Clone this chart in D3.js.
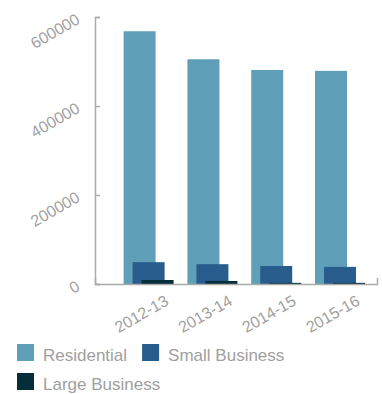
<!DOCTYPE html>
<meta charset="utf-8">
<script src="https://d3js.org/d3.v7.min.js"></script>
<style>
  body { margin: 0; background: #fff; }
  text { font-family: "Liberation Sans", Arial, sans-serif; }
</style>
<div id="chart"></div>
<script>

var years = ["2012-13", "2013-14", "2014-15", "2015-16"]
var series = ["Residential", "Small Business", "Large Business"]
var residential = [568000, 505000, 481000, 479000]
var smallBusiness = [49000, 44500, 40500, 38500]
var largeBusiness = [9000, 6800, 2600, 2600]
var yTicks = [0, 200000, 400000, 600000]

var values = [residential, smallBusiness, largeBusiness]

var width = 382
    height = 394

var svg = d3.select("#chart")
  .append("svg")
    .attr("width", width)
    .attr("height", height)

var color = d3.scaleOrdinal()
  .domain(series)
  .range(["#5fa0b8", "#285c8c", "#062d3a"])

var x = d3.scaleBand()
  .domain(years)
  .range([95, 377])
  .paddingInner(0)
  .paddingOuter(0.21)
  .align(0.81)

var barW = 32
var offset = d3.scalePoint()
  .domain(series)
  .range([0, 18])

var y = d3.scaleLinear()
  .domain([0, 600000])
  .range([284, 17])

// bars, one series after another so the later ones sit on top
series.forEach(function(s, si) {
  svg.selectAll(".bar" + si)
    .data(years)
    .enter()
    .append("rect")
      .attr("x", function(d) { return x(d) + (x.bandwidth() - 50) / 2 + offset(s) })
      .attr("y", function(d, i) { return y(values[si][i]) })
      .attr("width", barW)
      .attr("height", function(d, i) { return y(0) - y(values[si][i]) })
      .attr("fill", color(s))
})

// y axis
var yAxis = svg.append("g")
  .attr("transform", "translate(95,0)")
  .call(d3.axisLeft(y).tickValues(yTicks).tickFormat(d3.format("d")).tickSizeInner(-5).tickSizeOuter(-5))

yAxis.select(".domain").attr("stroke", "#aaa").attr("stroke-width", 1.5)
yAxis.selectAll(".tick line").attr("stroke", "#aaa").attr("stroke-width", 1.5)
yAxis.selectAll(".tick text")
  .attr("x", 0)
  .attr("dy", 0)
  .attr("transform", "translate(-14,5) rotate(-30)")
  .attr("text-anchor", "end")
  .attr("fill", "#a0a0a0")
  .style("font-size", "16px")

// x axis
var xAxis = svg.append("g")
  .attr("transform", "translate(0,284)")
  .call(d3.axisBottom(x).tickSizeInner(0).tickSizeOuter(-6))

xAxis.select(".domain").attr("stroke", "#aaa").attr("stroke-width", 1.5)
xAxis.selectAll(".tick text")
  .attr("y", 0)
  .attr("dy", 0)
  .attr("transform", "translate(21,20) rotate(-30)")
  .attr("text-anchor", "end")
  .attr("fill", "#a0a0a0")
  .style("font-size", "16px")

// legend, flowing left to right and wrapping
var lx = 17, ly = 344, size = 17
series.forEach(function(s) {
  var item = svg.append("g")
  item.append("rect")
    .attr("width", size)
    .attr("height", size)
    .attr("fill", color(s))
  var t = item.append("text")
    .attr("x", size + 9)
    .attr("y", size)
    .attr("fill", "#a0a0a0")
    .style("font-size", "17px")
    .text(s)
  var w = size + 9 + t.node().getComputedTextLength()
  if (lx + w > width - 5) { lx = 17; ly += 29 }
  item.attr("transform", "translate(" + lx + "," + ly + ")")
  lx += w + 15
})

</script>
